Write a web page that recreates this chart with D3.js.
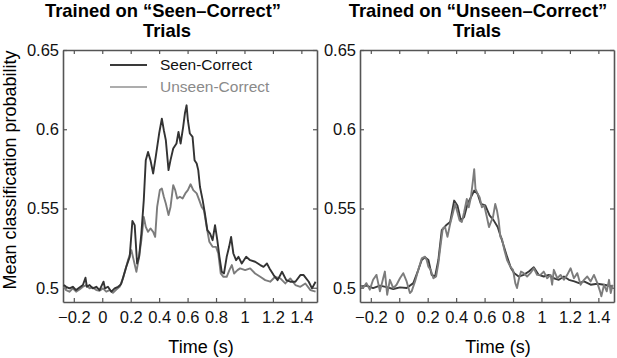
<!DOCTYPE html>
<html>
<head>
<meta charset="utf-8">
<script src="https://cdn.jsdelivr.net/npm/d3@7"></script>
<style>
  body { margin: 0; background: #fff; }
  svg { display: block; font-family: "Liberation Sans", Arial, sans-serif; }
</style>
</head>
<body>
<svg id="chart" width="617" height="358"></svg>
<script>
// time (s), mean classification probability
var seenOnSeen = [[-0.27,0.5017],[-0.254,0.5006],[-0.231,0.4996],[-0.207,0.5006],[-0.184,0.4985],[-0.16,0.5002],[-0.136,0.5017],[-0.118,0.5063],[-0.108,0.5006],[-0.089,0.5017],[-0.066,0.4996],[-0.042,0.5006],[-0.019,0.4985],[0.009,0.5038],[0.019,0.4996],[0.04,0.5006],[0.064,0.4975],[0.087,0.4996],[0.111,0.5006],[0.127,0.5017],
  [0.134,0.5027],[0.169,0.5132],[0.193,0.5195],[0.212,0.5422],[0.228,0.5395],[0.245,0.5153],[0.259,0.5195],[0.275,0.5342],[0.292,0.5553],[0.306,0.5805],[0.322,0.5857],[0.339,0.5805],[0.358,0.5721],[0.376,0.5826],[0.4,0.5973],[0.419,0.6067],[0.433,0.5994],[0.447,0.5931],[0.466,0.5742],[0.48,0.5805],[0.499,0.5878],[0.522,0.591],[0.536,0.5983],[0.551,0.591],[0.569,0.6015],[0.581,0.6099],[0.593,0.6151],[0.602,0.6057],[0.616,0.5973],[0.635,0.5952],[0.649,0.5805],[0.664,0.5784],[0.675,0.5742],[0.687,0.5637],[0.706,0.5553],[0.722,0.5468],[0.739,0.5363],[0.758,0.5342],[0.776,0.530],[0.793,0.5395],[0.809,0.530],[0.824,0.5195],[0.84,0.5101],[0.856,0.509],[0.875,0.5195],[0.892,0.5258],[0.906,0.5321],[0.922,0.5216],[0.941,0.5174],[0.958,0.5195],[0.981,0.5153],[1.012,0.5195],[1.04,0.5174],[1.075,0.5164],[1.111,0.5143],[1.134,0.5132],[1.158,0.5153],[1.176,0.5122],[1.205,0.508],[1.233,0.5048],[1.264,0.5101],[1.294,0.5048],[1.322,0.5038],[1.358,0.5038],[1.393,0.508],[1.416,0.508],[1.452,0.5038],[1.475,0.4996],[1.5,0.5038]];

var unseenOnSeen = [[-0.27,0.5006],[-0.254,0.4985],[-0.231,0.4975],[-0.207,0.4996],[-0.184,0.4975],[-0.16,0.4989],[-0.136,0.5006],[-0.113,0.5017],[-0.089,0.4996],[-0.066,0.5002],[-0.042,0.4985],[-0.019,0.4981],[0.005,0.4996],[0.028,0.4975],[0.052,0.4985],[0.075,0.4968],[0.099,0.4989],[0.122,0.5006],
  [0.146,0.5059],[0.181,0.5174],[0.205,0.5237],[0.221,0.5174],[0.24,0.5101],[0.259,0.5195],[0.275,0.530],[0.292,0.5447],[0.306,0.5384],[0.322,0.5353],[0.339,0.5374],[0.358,0.5353],[0.372,0.5321],[0.386,0.551],[0.405,0.5616],[0.419,0.5626],[0.433,0.5574],[0.447,0.5532],[0.466,0.5458],[0.48,0.551],[0.499,0.5647],[0.513,0.5616],[0.527,0.5563],[0.546,0.5574],[0.565,0.5563],[0.584,0.5595],[0.602,0.5616],[0.621,0.5653],[0.64,0.5616],[0.664,0.5595],[0.682,0.5553],[0.699,0.551],[0.715,0.5489],[0.734,0.5384],[0.753,0.529],[0.776,0.5258],[0.8,0.5258],[0.816,0.5216],[0.833,0.509],[0.852,0.5069],[0.875,0.5069],[0.894,0.5111],[0.911,0.5143],[0.927,0.509],[0.951,0.5111],[0.969,0.5122],[1.005,0.5111],[1.04,0.5122],[1.075,0.509],[1.111,0.5069],[1.146,0.5048],[1.181,0.5038],[1.216,0.5069],[1.252,0.5059],[1.287,0.5027],[1.322,0.5059],[1.358,0.5017],[1.393,0.5006],[1.428,0.5027],[1.464,0.4985],[1.5,0.4975]];

var seenOnUnseen = [[-0.27,0.5008],[-0.231,0.5013],[-0.184,0.4998],[-0.136,0.5013],[-0.089,0.5004],[-0.042,0.4992],[0.005,0.5002],[0.052,0.4998],[0.099,0.5029],
  [0.134,0.5113],[0.158,0.5175],[0.181,0.5192],[0.205,0.5175],[0.228,0.5081],[0.252,0.5071],[0.275,0.5175],[0.299,0.5363],[0.329,0.5394],[0.358,0.5415],[0.386,0.555],[0.409,0.5519],[0.433,0.5425],[0.456,0.5446],[0.48,0.5529],[0.504,0.5571],[0.527,0.5613],[0.551,0.5592],[0.574,0.5529],[0.605,0.5519],[0.635,0.5456],[0.664,0.5425],[0.692,0.5383],[0.722,0.530],[0.758,0.5196],[0.786,0.5123],[0.809,0.5092],[0.84,0.5071],[0.875,0.5081],[0.911,0.5102],[0.946,0.5129],[0.981,0.5081],[1.016,0.5071],[1.052,0.5081],[1.087,0.506],[1.122,0.505],[1.158,0.5071],[1.193,0.505],[1.231,0.504],[1.264,0.5029],[1.299,0.504],[1.346,0.5019],[1.393,0.5025],[1.44,0.5019],[1.5,0.5008]];

var unseenOnUnseen = [[-0.27,0.5008],[-0.254,0.4998],[-0.231,0.5029],[-0.207,0.4988],[-0.184,0.505],[-0.16,0.5081],[-0.136,0.4977],[-0.113,0.506],[-0.101,0.5102],[-0.085,0.4956],[-0.066,0.505],[-0.042,0.4998],[-0.019,0.5019],[0.005,0.506],[0.028,0.5092],[0.052,0.504],[0.075,0.4967],[0.087,0.4977],[0.111,0.504],
  [0.134,0.5113],[0.158,0.5185],[0.181,0.5196],[0.193,0.5175],[0.205,0.5133],[0.221,0.5113],[0.24,0.506],[0.259,0.5071],[0.275,0.5154],[0.292,0.5279],[0.306,0.5373],[0.322,0.5383],[0.339,0.5321],[0.358,0.5404],[0.376,0.5467],[0.393,0.5529],[0.409,0.5477],[0.424,0.5425],[0.44,0.5415],[0.456,0.5477],[0.475,0.556],[0.489,0.5508],[0.504,0.5571],[0.518,0.5675],[0.527,0.5748],[0.536,0.5623],[0.551,0.5592],[0.565,0.5571],[0.581,0.5508],[0.598,0.5519],[0.616,0.5446],[0.631,0.5383],[0.645,0.5415],[0.659,0.5446],[0.675,0.5529],[0.687,0.5488],[0.699,0.5425],[0.711,0.5321],[0.722,0.531],[0.739,0.5238],[0.758,0.5175],[0.781,0.5133],[0.8,0.5113],[0.816,0.5029],[0.828,0.4998],[0.84,0.505],[0.856,0.5102],[0.875,0.5092],[0.899,0.5071],[0.922,0.5092],[0.946,0.5123],[0.969,0.5081],[0.993,0.5081],[1.016,0.5102],[1.04,0.506],[1.064,0.5081],[1.075,0.5019],[1.087,0.5113],[1.111,0.506],[1.134,0.5081],[1.158,0.505],[1.181,0.5081],[1.205,0.5123],[1.228,0.506],[1.252,0.5092],[1.275,0.5019],[1.299,0.505],[1.322,0.5071],[1.346,0.504],[1.369,0.5081],[1.393,0.5029],[1.412,0.4977],[1.421,0.4946],[1.44,0.5019],[1.459,0.4977],[1.475,0.505],[1.487,0.4967],[1.5,0.5019]];

var xTicks = [-0.2, 0, 0.2, 0.4, 0.6, 0.8, 1, 1.2, 1.4];
var yTicks = [0.5, 0.55, 0.6, 0.65];
var seriesNames = ["Seen-Correct", "Unseen-Correct"];

(function() {
  var panels = [
    {left: 63, title: "Trained on \u201cSeen\u2013Correct\u201d", titleX: 163, trialsX: 167, series: [unseenOnSeen, seenOnSeen], colors: ["#7c7c7c", "#333"], legend: true},
    {left: 360, title: "Trained on \u201cUnseen\u2013Correct\u201d", titleX: 478, trialsX: 477, series: [seenOnUnseen, unseenOnUnseen], colors: ["#3a3a3a", "#7c7c7c"], legend: false}
  ];

  var plotW = 254, plotTop = 50, plotBottom = 302, plotH = plotBottom - plotTop;
  var svg = d3.select("#chart");

  panels.forEach(function(p) {
    var x = d3.scaleLinear().domain([-0.276, 1.51]).range([0, plotW]),
        y = d3.scaleLinear().domain([0.491, 0.65]).range([plotH, 0]);

    var g = svg.append("g").attr("transform", "translate(" + p.left + "," + plotTop + ")");

    g.append("g").attr("transform", "translate(0," + plotH + ")")
      .call(d3.axisBottom(x).tickValues(xTicks).tickFormat(d3.format("")).tickSizeInner(-4).tickSizeOuter(0).tickPadding(9));
    g.append("g")
      .call(d3.axisTop(x).tickValues(xTicks).tickFormat("").tickSizeInner(-4).tickSizeOuter(0));
    g.append("g")
      .call(d3.axisLeft(y).tickValues(yTicks).tickFormat(d3.format("")).tickSizeInner(-4).tickSizeOuter(0).tickPadding(4));
    g.append("g").attr("transform", "translate(" + plotW + ",0)")
      .call(d3.axisRight(y).tickValues(yTicks).tickFormat("").tickSizeInner(-4).tickSizeOuter(0));

    g.selectAll(".domain").attr("stroke", "#555").attr("stroke-width", 1.6);
    g.selectAll(".tick line").attr("stroke", "#555").attr("stroke-width", 1.2);
    g.selectAll(".tick text").attr("font-size", 16.5).attr("fill", "#111")
      .attr("font-family", "Liberation Sans, Arial, sans-serif");

    var line = d3.line().x(function(d) { return x(d[0]); }).y(function(d) { return y(d[1]); });
    p.series.forEach(function(s, i) {
      g.append("path").datum(s)
        .attr("fill", "none")
        .attr("stroke", p.colors[i])
        .attr("stroke-width", 1.9)
        .attr("stroke-linejoin", "round")
        .attr("d", line);
    });

    svg.append("text").attr("x", p.titleX).attr("y", 17)
      .attr("text-anchor", "middle").attr("font-weight", "bold").attr("font-size", 18.4)
      .text(p.title);
    svg.append("text").attr("x", p.trialsX).attr("y", 37)
      .attr("text-anchor", "middle").attr("font-weight", "bold").attr("font-size", 18.4)
      .text("Trials");

    g.append("text").attr("x", plotW / 2 + 11).attr("y", 353 - plotTop)
      .attr("text-anchor", "middle").attr("font-size", 18).text("Time (s)");

    if (p.legend) {
      var lg = g.append("g").attr("transform", "translate(47,15)");
      var legendColors = ["#3a3a3a", "#adadad"];
      seriesNames.forEach(function(name, i) {
        lg.append("line").attr("x1", 0).attr("x2", 37)
          .attr("y1", i * 22).attr("y2", i * 22)
          .attr("stroke", legendColors[i]).attr("stroke-width", 2.2);
        lg.append("text").attr("x", 50).attr("y", i * 22).attr("dy", "0.35em")
          .attr("font-size", 15.5).attr("fill", i === 0 ? "#111" : "#8a8a8a").text(name);
      });
    }
  });

  svg.append("text")
    .attr("transform", "translate(16,170) rotate(-90)")
    .attr("text-anchor", "middle").attr("font-size", 18)
    .text("Mean classification probability");
})();
</script>
</body>
</html>
